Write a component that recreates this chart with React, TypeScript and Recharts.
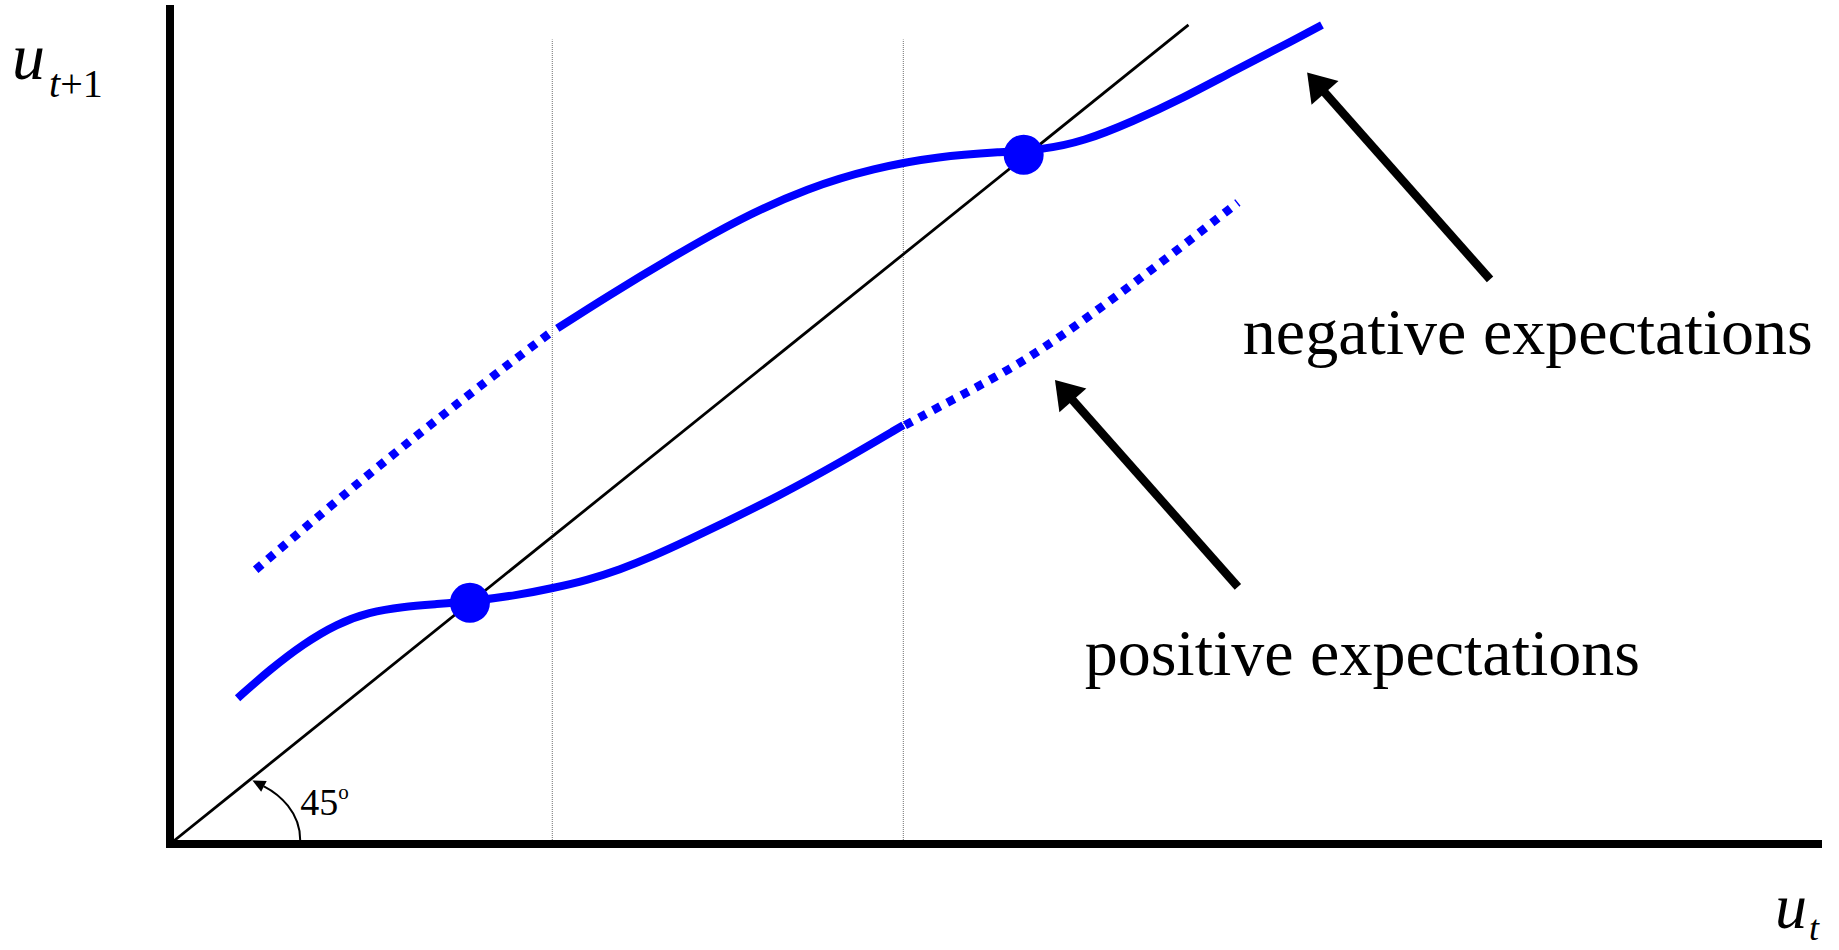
import React from "react";
import { ComposedChart, Line, XAxis, YAxis, ReferenceLine, ReferenceDot } from "recharts";

// 45 degree line u(t+1) = u(t)
const diagonal = [
  { x: 0, y: 0 },
  { x: 61.8, y: 61.8 },
];

// upper branch (negative expectations)
const upperDotted = [
  { x: 5.2, y: 20.7 },
  { x: 12.0, y: 27.9 },
  { x: 18.0, y: 33.8 },
  { x: 23.1, y: 38.6 },
];
const upperSolid = [
  { x: 23.5, y: 38.9 },
  { x: 26.5, y: 41.3 },
  { x: 30.5, y: 44.3 },
  { x: 34.6, y: 47.2 },
  { x: 38.7, y: 49.5 },
  { x: 42.7, y: 51.0 },
  { x: 46.7, y: 51.9 },
  { x: 50.4, y: 52.2 },
  { x: 53.0, y: 52.4 },
  { x: 55.4, y: 53.0 },
  { x: 58.4, y: 54.5 },
  { x: 61.5, y: 56.3 },
  { x: 64.5, y: 58.3 },
  { x: 67.5, y: 60.2 },
  { x: 69.9, y: 61.8 },
];

// lower branch (positive expectations)
const lowerSolid = [
  { x: 4.1, y: 11.0 },
  { x: 6.1, y: 13.2 },
  { x: 8.1, y: 15.1 },
  { x: 10.1, y: 16.6 },
  { x: 12.1, y: 17.5 },
  { x: 14.1, y: 17.9 },
  { x: 16.2, y: 18.1 },
  { x: 18.2, y: 18.3 },
  { x: 21.2, y: 18.8 },
  { x: 23.2, y: 19.3 },
  { x: 25.3, y: 19.9 },
  { x: 27.3, y: 20.7 },
  { x: 29.3, y: 21.7 },
  { x: 31.4, y: 22.9 },
  { x: 33.4, y: 24.1 },
  { x: 37.0, y: 26.3 },
  { x: 40.4, y: 28.6 },
  { x: 44.5, y: 31.6 },
];
const lowerDotted = [
  { x: 44.6, y: 31.6 },
  { x: 47.3, y: 33.4 },
  { x: 51.0, y: 35.8 },
  { x: 54.2, y: 38.4 },
  { x: 57.5, y: 41.4 },
  { x: 60.7, y: 44.4 },
  { x: 64.8, y: 48.4 },
];

// steady states where the branches cross the 45 degree line
const equilibria = [
  { x: 18.2, y: 18.2 },
  { x: 51.8, y: 52.0 },
];

const dividers = [23.2, 44.5];
const dividerTop = 60.7;

// annotation anchors (data units): tail -> tip
const negArrow = [{ x: 80.1, y: 42.6 }, { x: 69.0, y: 58.2 }];
const posArrow = [{ x: 64.8, y: 19.4 }, { x: 53.7, y: 35.0 }];
const angleArc = [{ x: 7.9, y: 0.3 }, { x: 5.0, y: 4.8 }];

const negLabel = { x: 65.1, y: 37.0, text: "negative expectations" };
const posLabel = { x: 55.5, y: 12.75, text: "positive expectations" };
const angleLabel = { x: 7.9, y: 2.2 };

const SERIF = '"Liberation Serif", "Times New Roman", serif';
const BLUE = "#0000ff";

function arrow(p: any, len: number, half: number, width: number) {
  const { x1, y1, x2, y2 } = p;
  const dx = x2 - x1;
  const dy = y2 - y1;
  const d = Math.sqrt(dx * dx + dy * dy);
  const ux = dx / d;
  const uy = dy / d;
  const bx = x2 - ux * len;
  const by = y2 - uy * len;
  const pts = `${x2},${y2} ${bx - uy * half},${by + ux * half} ${bx + uy * half},${by - ux * half}`;
  return (
    <g>
      <line x1={x1} y1={y1} x2={bx + ux * 2} y2={by + uy * 2} stroke="#000" strokeWidth={width} />
      <polygon points={pts} fill="#000" />
    </g>
  );
}

function curvedArrow(p: any) {
  const { x1, y1, x2, y2 } = p;
  const c1x = x1;
  const c1y = y1 - 28;
  const c2x = x2 + 27;
  const c2y = y2 + 14;
  const dx = x2 - c2x;
  const dy = y2 - c2y;
  const d = Math.sqrt(dx * dx + dy * dy);
  const ux = dx / d;
  const uy = dy / d;
  const len = 13;
  const half = 6;
  const bx = x2 - ux * len;
  const by = y2 - uy * len;
  const pts = `${x2},${y2} ${bx - uy * half},${by + ux * half} ${bx + uy * half},${by - ux * half}`;
  return (
    <g>
      <path d={`M${x1},${y1} C${c1x},${c1y} ${c2x},${c2y} ${bx},${by}`} fill="none" stroke="#000" strokeWidth={2} />
      <polygon points={pts} fill="#000" />
    </g>
  );
}

export default function App() {
  return (
    <div style={{ position: "fixed", left: 0, top: 0, background: "#fff" }}>
      <ComposedChart width={1839} height={950} margin={{ top: 9, right: 21, bottom: 0, left: 110 }}>
        <XAxis
          type="number"
          dataKey="x"
          domain={[0, 100]}
          height={106}
          tick={false}
          tickLine={false}
          axisLine={{ stroke: "#000", strokeWidth: 8, strokeLinecap: "square" }}
          label={(p: any) => {
            const vb = p.viewBox;
            const x = vb.x + vb.width - 43;
            const y = vb.y + 84;
            return (
              <text fontFamily={SERIF} fill="#000">
                <tspan x={x} y={y} fontSize={64} fontStyle="italic">u</tspan>
                <tspan x={x + 34} y={y + 12} fontSize={36} fontStyle="italic">t</tspan>
              </text>
            );
          }}
        />
        <YAxis
          type="number"
          dataKey="y"
          domain={[0, 63]}
          width={60}
          tick={false}
          tickLine={false}
          axisLine={{ stroke: "#000", strokeWidth: 8, strokeLinecap: "square" }}
          label={(p: any) => {
            const vb = p.viewBox;
            const x = vb.x + vb.width - 158;
            const y = vb.y + 70;
            return (
              <text fontFamily={SERIF} fill="#000">
                <tspan x={x} y={y} fontSize={66} fontStyle="italic">u</tspan>
                <tspan x={x + 37} y={y + 18} fontSize={40} fontStyle="italic">t</tspan>
                <tspan fontSize={40}>+1</tspan>
              </text>
            );
          }}
        />

        {dividers.map((d) => (
          <ReferenceLine
            key={d}
            segment={[{ x: d, y: 0 }, { x: d, y: dividerTop }]}
            stroke="#888"
            strokeWidth={1.2}
            strokeDasharray="1 1"
          />
        ))}

        <Line data={diagonal} dataKey="y" type="linear" stroke="#000" strokeWidth={2.8} dot={false} isAnimationActive={false} />

        <Line data={upperDotted} dataKey="y" type="basis" stroke={BLUE} strokeWidth={8.5} strokeDasharray="8 8" dot={false} isAnimationActive={false} />
        <Line data={upperSolid} dataKey="y" type="basis" stroke={BLUE} strokeWidth={8} dot={false} isAnimationActive={false} />
        <Line data={lowerSolid} dataKey="y" type="basis" stroke={BLUE} strokeWidth={8} dot={false} isAnimationActive={false} />
        <Line data={lowerDotted} dataKey="y" type="basis" stroke={BLUE} strokeWidth={8.5} strokeDasharray="8 8" dot={false} isAnimationActive={false} />

        {equilibria.map((e, i) => (
          <ReferenceDot key={i} x={e.x} y={e.y} r={20} fill={BLUE} stroke="none" />
        ))}

        <ReferenceLine segment={negArrow} shape={(p: any) => arrow(p, 27, 18, 8.5)} />
        <ReferenceLine segment={posArrow} shape={(p: any) => arrow(p, 27, 18, 8.5)} />
        <ReferenceLine segment={angleArc} shape={curvedArrow} />

        <ReferenceDot
          x={negLabel.x}
          y={negLabel.y}
          r={0}
          shape={(p: any) => (
            <text x={p.cx} y={p.cy} fontFamily={SERIF} fontSize={66} fill="#000">
              {negLabel.text}
            </text>
          )}
        />
        <ReferenceDot
          x={posLabel.x}
          y={posLabel.y}
          r={0}
          shape={(p: any) => (
            <text x={p.cx} y={p.cy} fontFamily={SERIF} fontSize={66} fill="#000">
              {posLabel.text}
            </text>
          )}
        />
        <ReferenceDot
          x={angleLabel.x}
          y={angleLabel.y}
          r={0}
          shape={(p: any) => (
            <text x={p.cx} y={p.cy} fontFamily={SERIF} fill="#000">
              <tspan fontSize={38}>45</tspan>
              <tspan fontSize={21} dy={-16}>o</tspan>
            </text>
          )}
        />
      </ComposedChart>
    </div>
  );
}
